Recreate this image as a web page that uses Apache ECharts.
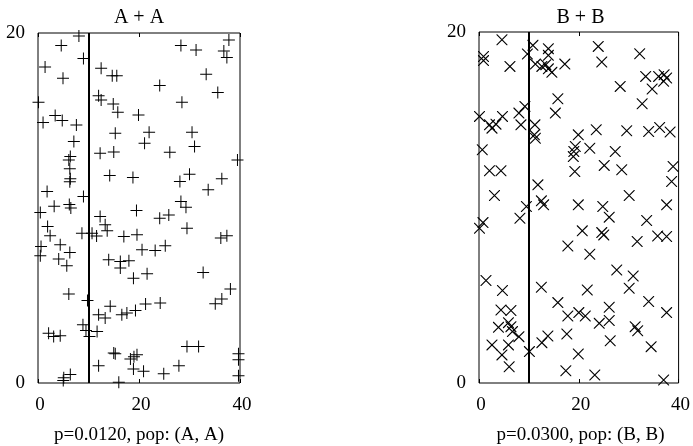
<!DOCTYPE html>
<html>
<head>
<meta charset="utf-8">
<script src="https://cdn.jsdelivr.net/npm/echarts@6/dist/echarts.min.js"></script>
<style>html,body{margin:0;padding:0;background:#fff}#c{width:693px;height:446px}</style>
</head>
<body>
<div id="c"></div>
<script>
// ---- data ----
var titleLeft = 'A + A';
var titleRight = 'B + B';
var captionLeft = 'p=0.0120, pop: (A, A)';
var captionRight = 'p=0.0300, pop: (B, B)';
var xTicks = [0, 20, 40];
var yTicks = [0, 20];
var dividerX = 10;

var pointsA = [
 [8.1,19.83],[4.6,19.28],[9.0,18.55],[1.4,18.06],[4.95,17.41],[0.1,16.04],[1.0,14.88],[3.4,15.28],[4.8,15.0],[7.6,14.75],
 [7.1,13.8],[6.4,12.95],[6.1,12.75],[6.3,12.24],[6.4,11.67],[6.3,11.5],[1.8,10.94],[9.0,10.66],[3.2,10.1],[6.2,10.2],[6.5,10.0],
 [0.46,9.74],[1.9,8.94],[2.4,8.41],[4.4,7.9],[0.6,7.8],[0.46,7.27],[6.3,7.46],[4.1,7.08],[5.7,6.70],[8.7,8.56],
 [6.1,5.08],[9.8,4.72],[8.9,3.33],[9.5,3.0],[10.2,2.66],[11.7,2.95],[2.1,2.85],[3.1,2.66],[4.4,2.7],[5.1,0.3],[5.0,0.15],[6.4,0.48],
 [10.7,8.56],[11.6,8.4],[12.3,9.51],[13.3,9.04],[13.7,8.7],[19.5,9.86],[24.1,9.42],[25.9,9.6],[29.5,8.85],[17.0,8.37],[19.6,8.47],
 [20.6,7.61],[23.2,7.57],[25.2,7.84],[14.0,7.04],[16.3,6.95],[18.0,6.98],[16.3,6.57],[18.9,5.99],[21.6,6.24],[32.7,6.32],
 [36.2,8.28],[37.4,8.41],[38.1,5.37],[36.4,4.8],[35.1,4.53],[14.3,4.38],[12.0,3.9],[13.3,3.71],[16.6,3.9],[17.6,4.0],[19.3,4.15],
 [21.3,4.51],[24.2,4.57],[15.0,1.71],[15.3,1.67],[18.3,1.37],[19.6,1.62],[19.0,1.5],[12.0,0.99],[18.9,0.8],[20.9,0.67],[24.9,0.53],
 [27.9,0.99],[29.5,2.09],[31.8,2.09],[39.7,1.67],[39.7,1.33],[39.7,0.42],[16.0,0.04],[28.3,10.37],[29.3,10.05],
 [28.3,19.28],[31.3,19.03],[37.8,19.6],[36.8,18.97],[37.4,18.6],[12.5,17.98],[14.7,17.56],[15.6,17.56],[24.1,17.0],[33.3,17.64],
 [35.6,16.6],[12.0,16.42],[12.5,16.17],[14.9,15.95],[15.8,15.47],[19.9,15.32],[28.5,16.04],[15.3,14.27],[22.0,14.33],[30.5,14.33],
 [31.0,13.51],[21.1,13.7],[12.3,13.13],[15.0,13.2],[26.1,13.19],[39.5,12.75],[14.2,11.86],[18.8,11.74],[30.0,11.93],[28.1,11.51],
 [36.4,11.67],[33.7,11.04]
];

var pointsB = [
 [4.6,19.56],[0.9,18.6],[0.9,18.37],[6.2,18.04],[10.8,19.24],[9.7,18.75],[13.9,19.05],[13.9,18.67],[11.3,18.17],[12.6,18.04],
 [13.4,18.14],[13.9,17.9],[14.6,17.7],[17.2,18.17],[23.9,19.18],[24.6,18.29],[32.2,18.76],[33.4,17.47],[36.0,17.47],[37.1,17.57],
 [37.6,17.38],[37.0,17.19],[34.7,16.75],[28.3,16.9],[32.7,15.91],[15.8,16.2],[15.3,15.38],[0.1,15.19],[2.1,14.71],[2.6,14.52],
 [3.4,14.75],[4.7,15.19],[8.0,15.38],[8.4,14.71],[9.2,15.76],[11.2,14.71],[11.1,14.14],[11.3,13.95],[19.9,14.14],[23.5,14.43],
 [29.6,14.37],[34.0,14.33],[36.2,14.56],[38.3,14.3],[19.3,13.48],[19.0,13.19],[18.9,12.9],[22.2,13.38],[27.3,13.19],[0.66,13.29],
 [2.1,12.09],[4.4,12.09],[19.2,12.05],[25.1,12.4],[28.6,12.15],[38.9,12.34],[38.6,11.48],[11.8,11.29],[3.1,10.68],[30.1,10.68],
 [19.9,10.15],[24.8,10.06],[37.6,10.15],[12.5,10.38],[12.95,10.15],[9.5,10.06],
 [0.8,9.14],[0.1,8.82],[8.2,9.39],[26.1,9.45],[33.6,9.26],[20.7,8.67],[24.6,8.57],[25.0,8.44],[31.7,8.06],[35.8,8.38],[37.6,8.35],
 [17.8,7.81],[22.2,7.34],[27.6,6.44],[30.9,6.10],[30.1,5.4],[1.4,5.84],[4.7,5.27],[12.5,5.46],[21.7,5.30],[34.0,4.64],[15.8,4.58],
 [4.4,4.16],[6.4,4.13],[17.8,3.82],[20.0,4.01],[21.3,3.82],[26.1,4.32],[37.6,4.01],[3.9,3.17],[5.9,3.44],[6.4,3.21],[6.7,2.93],
 [8.0,2.64],[2.6,2.17],[4.6,1.6],[5.9,2.17],[6.05,0.93],[10.1,1.79],[12.6,2.30],[13.8,2.68],[17.6,2.79],[19.9,1.65],[24.1,3.40],
 [26.1,3.56],[26.3,2.41],[31.3,3.21],[31.8,2.98],[34.5,2.07],[17.4,0.70],[23.2,0.46],[37.0,0.17]
];

// ---- chart ----
var FONT = 'Liberation Serif';
var plusPath = 'path://M0,5.5H12V6.5H0Z M5.5,0H6.5V12H5.5Z';
var crossPath = 'path://M0,0L0.8,0L11,10.2L11,11L10.2,11L0,0.8Z M10.2,0L11,0L11,0.8L0.8,11L0,11L0,10.2Z';

var grids = [
  {left: 38, top: 33, width: 202, height: 350},
  {left: 479, top: 32, width: 203, height: 351}
];
var xMin = xTicks[0], xMax = xTicks[xTicks.length - 1];
var yMin = yTicks[0], yMax = yTicks[yTicks.length - 1];

function gridOpt(g) {
  return {left: g.left, top: g.top, width: g.width, height: g.height, show: true,
    borderColor: '#000', borderWidth: 1, backgroundColor: 'transparent', containLabel: false};
}
function xBottom(i) {
  return {gridIndex: i, type: 'value', min: xMin, max: xMax, interval: 20, position: 'bottom',
    axisLine: {show: false}, splitLine: {show: false},
    axisTick: {show: true, inside: true, length: 4, lineStyle: {color: '#000', width: 1}},
    axisLabel: {show: true, margin: 13, color: '#000', fontFamily: FONT, fontSize: 19,
      formatter: function (v) { return '\u2009' + v; }}};
}
function xTop(i) {
  return {gridIndex: i, type: 'value', min: xMin, max: xMax, interval: 20, position: 'top',
    axisLine: {show: false}, splitLine: {show: false},
    axisTick: {show: true, inside: true, length: 4, lineStyle: {color: '#000', width: 1}},
    axisLabel: {show: false}};
}
function yAxisOpt(i) {
  return {gridIndex: i, type: 'value', min: yMin, max: yMax, interval: 20,
    axisLine: {show: false}, splitLine: {show: false}, axisTick: {show: false},
    axisLabel: {show: true, margin: 13, color: '#000', fontFamily: FONT, fontSize: 19}};
}
function series(i, data, sym, size) {
  return {type: 'scatter', xAxisIndex: i * 2, yAxisIndex: i, data: data,
    symbol: sym, symbolSize: size, itemStyle: {color: '#000', opacity: 1},
    silent: true, animation: false,
    markLine: {silent: true, symbol: ['none', 'none'], label: {show: false}, animation: false,
      lineStyle: {color: '#000', width: 2, type: 'solid'},
      data: [{xAxis: dividerX}]}};
}
function txt(t, x, y, size) {
  return {type: 'text', x: x, y: y, silent: true,
    style: {text: t, fill: '#000', fontFamily: FONT, fontSize: size, align: 'center', verticalAlign: 'middle'}};
}

var chart = echarts.init(document.getElementById('c'), null, {renderer: 'canvas'});
chart.setOption({
  animation: false,
  backgroundColor: '#fff',
  grid: [gridOpt(grids[0]), gridOpt(grids[1])],
  xAxis: [xBottom(0), xTop(0), xBottom(1), xTop(1)],
  yAxis: [yAxisOpt(0), yAxisOpt(1)],
  series: [series(0, pointsA, plusPath, 12), series(1, pointsB, crossPath, 11)],
  graphic: [
    txt(titleLeft, 139, 18, 20), txt(titleRight, 580.5, 18, 20),
    txt(captionLeft, 139, 435, 19), txt(captionRight, 580.5, 435, 19)
  ]
});
</script>
</body>
</html>
